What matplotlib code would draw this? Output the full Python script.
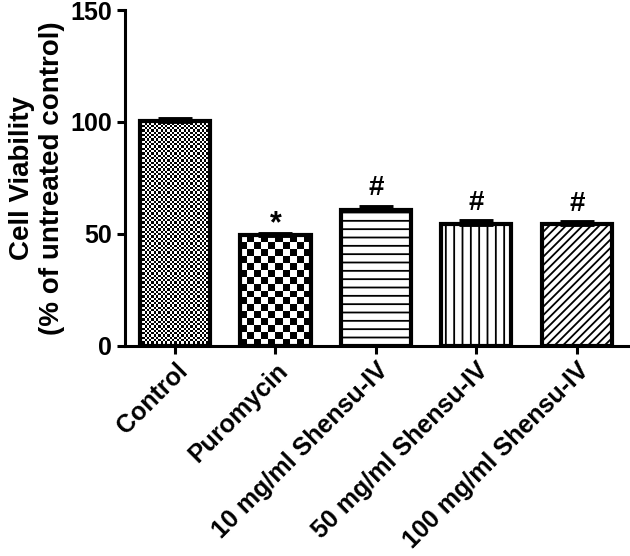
import numpy as np
import matplotlib
matplotlib.use('Agg')
import matplotlib.pyplot as plt

plt.rcParams.update({
    'font.family': ['Liberation Sans', 'DejaVu Sans'],
    'font.weight': 'bold',
    'hatch.linewidth': 1.3,
})

groups = ['Control', 'Puromycin', '10 mg/ml Shensu-IV',
          '50 mg/ml Shensu-IV', '100 mg/ml Shensu-IV']
viability = [100.5, 49.3, 60.6, 54.4, 54.2]
sem = [1.0, 0.8, 1.4, 1.3, 1.0]
marks = ['', '*', '#', '#', '#']
hatches = [None, None, '--', '||', '////']
checker_px = [2.3, 6.7, None, None, None]  # checkerboard cell size, pixels


def checker_fill(ax, bar, cell_px):
    # checkerboard fill clipped to the bar, cell size given in pixels
    x0, y0 = bar.get_x(), bar.get_y()
    w, h = bar.get_width(), bar.get_height()
    p0 = ax.transData.transform((x0, y0))
    p1 = ax.transData.transform((x0 + w, y0 + h))
    nx = max(1, int(round(abs(p1[0] - p0[0]) / cell_px)))
    ny = max(1, int(round(abs(p1[1] - p0[1]) / cell_px)))
    board = (np.add.outer(np.arange(ny), np.arange(nx)) % 2).astype(float)
    im = ax.imshow(board, cmap='gray', extent=(x0, x0 + w, y0, y0 + h),
                   origin='lower', interpolation='nearest', aspect='auto',
                   zorder=2, vmin=0, vmax=1)
    im.set_clip_path(bar)


fig = plt.figure(figsize=(6.3, 5.56), dpi=100)
ax = fig.add_axes([0.198, 0.378, 0.802, 0.604])

x = np.arange(len(groups))
ax.set_xlim(-0.5, 4.53)
ax.set_ylim(0, 150)

bars = ax.bar(x, viability, width=0.7, facecolor='white', edgecolor='black',
              linewidth=3, zorder=3)
for b, hatch in zip(bars, hatches):
    if hatch:
        b.set_hatch(hatch)

# draw fills after limits are fixed so pixel sizes are right
fig.canvas.draw()
for b, cp in zip(bars, checker_px):
    if cp:
        b.set_facecolor('none')
        checker_fill(ax, b, cp)

ax.errorbar(x, viability, yerr=[np.zeros(len(sem)), sem], fmt='none',
            ecolor='black', elinewidth=3, capsize=12, capthick=3.5, zorder=4)

for xi, v, e, m in zip(x, viability, sem, marks):
    if m == '*':
        ax.text(xi, v + e - 2.5, m, ha='center', va='bottom',
                fontsize=22, fontweight='bold')
    elif m:
        ax.text(xi, v + e + 2.5, m, ha='center', va='bottom',
                fontsize=20, fontweight='bold')

ax.spines['top'].set_visible(False)
ax.spines['right'].set_visible(False)
ax.spines['left'].set_linewidth(2.2)
ax.spines['bottom'].set_linewidth(2.2)
ax.tick_params(axis='both', width=2.2, length=6, labelsize=18, pad=3)

ax.set_yticks([0, 50, 100, 150])
ax.set_xticks(x)
ax.set_xticklabels(groups, rotation=45, ha='right', rotation_mode='anchor')
ax.set_ylabel('Cell Viability\n(% of untreated control)', fontsize=20,
              fontweight='bold', labelpad=4)

fig.savefig('out.png', dpi=100)
